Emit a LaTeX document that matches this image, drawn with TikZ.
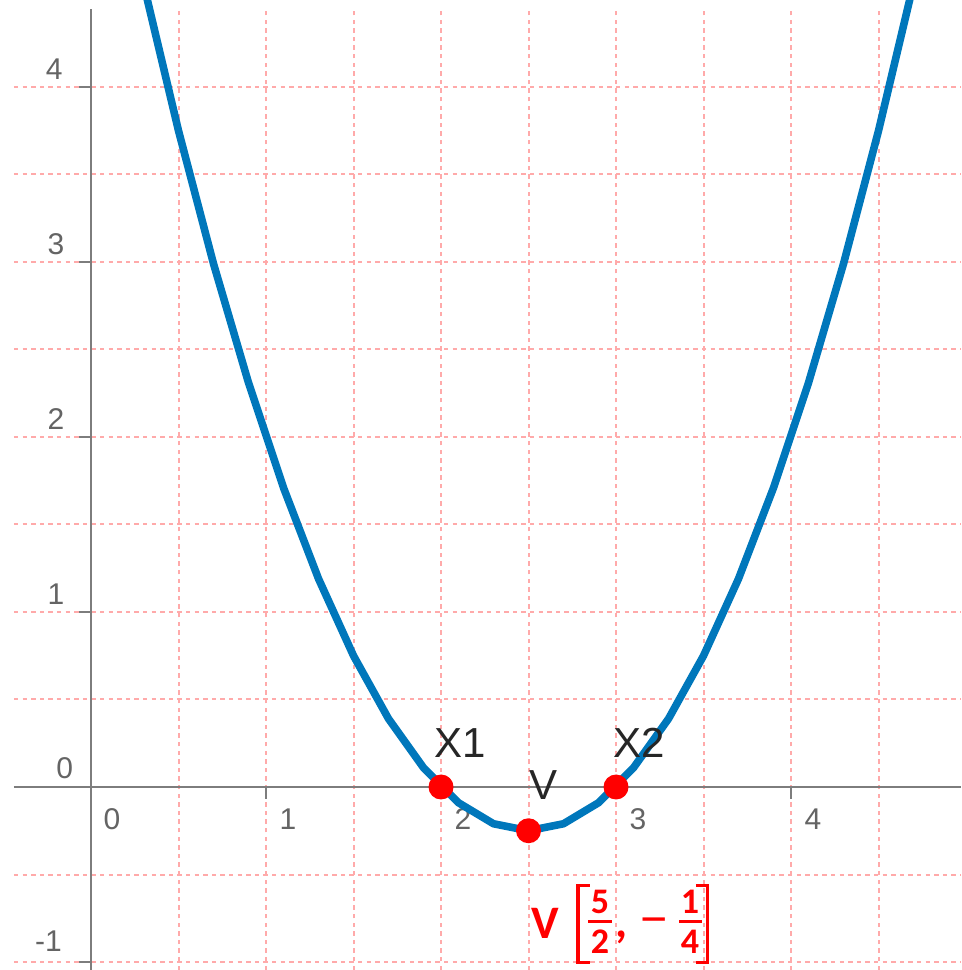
\documentclass[tikz,border=0pt]{standalone}
\usepackage{fontspec}
\setmainfont{Liberation Sans}
\newfontfamily\calb{Carlito}
\newfontfamily\timesf{Liberation Serif}
\definecolor{curveblue}{RGB}{0,119,187}
\definecolor{gridpink}{RGB}{255,170,170}
\definecolor{axisgray}{RGB}{125,125,125}
\definecolor{labgray}{RGB}{100,100,100}
\definecolor{ptred}{RGB}{255,0,0}
\begin{document}
\begin{tikzpicture}[x=87.5pt,y=87.5pt,
  gridline/.style={gridpink, line width=1pt, dash pattern=on 2.2pt off 2.1pt},
  axisline/.style={axisgray, line width=1pt},
  ticklab/.style={labgray, font=\fontsize{15}{18}\selectfont, inner sep=0pt},
  ptlab/.style={black!85, font=\fontsize{21}{25}\selectfont, inner sep=0pt},
  rootpt/.style={circle, fill=ptred, minimum size=12.5pt, inner sep=0pt},
  curve/.style={curveblue, line width=3.8pt, line join=round},
  redtxt/.style={text=ptred, inner sep=0pt, anchor=base, font=\calb\bfseries\fontsize{23.3}{28}\selectfont},
  fracdig/.style={text=ptred, inner sep=0pt, anchor=base, font=\calb\bfseries\fontsize{18}{20}\selectfont},
  redline/.style={ptred, line width=1.5pt}]
\useasboundingbox (-0.52,-1.0457) rectangle (4.9714,4.4971);
% grid
\foreach \x in {0.5,1,...,4.5} \draw[gridline] (\x,-1.0457) -- (\x,4.446);
\foreach \y in {-1,-0.5,...,4} \draw[gridline] (-0.44,\y) -- (4.9714,\y);
% axes
\draw[axisline] (-0.44,0) -- (4.9714,0);
\draw[axisline] (0,-1.0457) -- (0,4.446);
\foreach \y in {-1,1,2,3,4} \draw[axisline] (-0.069,\y) -- (0,\y);
\foreach \x in {1,2,3,4} \draw[axisline] (\x,0) -- (\x,-0.069);
% tick labels
\node[ticklab, anchor=east] (y4) at (-0.16,4.1) {4};
\node[ticklab, anchor=east] (y3) at (-0.15,3.1) {3};
\node[ticklab, anchor=east] (y2) at (-0.15,2.1) {2};
\node[ticklab, anchor=east] (y1) at (-0.15,1.1) {1};
\node[ticklab, anchor=east] (y0) at (-0.10,0.106) {0};
\node[ticklab, anchor=east] (ym1) at (-0.165,-0.88) {-1};
\node[ticklab] (x0) at (0.12,-0.183) {0};
\node[ticklab] (x1) at (1.126,-0.183) {1};
\node[ticklab] (x2) at (2.126,-0.183) {2};
\node[ticklab] (x3) at (3.126,-0.183) {3};
\node[ticklab] (x4) at (4.126,-0.183) {4};
% curve
\begin{scope}
\clip (-0.52,-1.0457) rectangle (4.9714,4.4971);
\draw[curve] plot[domain=0.3:4.7, samples=23] (\x,{(\x-2)*(\x-3)});
\end{scope}
% points
\node[rootpt] (X1) at (2,0) {};
\node[rootpt] (V) at (2.5,-0.25) {};
\node[rootpt] (X2) at (3,0) {};
\node[ptlab] (X1lab) at (2.109,0.251) {X1};
\node[ptlab] (Vlab) at (2.583,0.011) {V};
\node[ptlab] (X2lab) at (3.131,0.251) {X2};
% vertex label  V [5/2, -1/4]
\node[redtxt] (vv) at (2.594,-0.863) {V};
\draw[redline, line width=1.8pt] (2.851,-0.563) -- (2.783,-0.563) -- (2.783,-1.003) -- (2.851,-1.003);
\node[fracdig] (n5) at (2.909,-0.7257) {5};
\draw[redline] (2.84,-0.771) -- (2.977,-0.771);
\node[fracdig] (d2) at (2.909,-0.949) {2};
\node[redtxt] (comma) at (3.034,-0.862) {,};
\node[redtxt, font=\timesf\bfseries\fontsize{24}{28}\selectfont] (minus) at (3.217,-0.851) {−};
\node[fracdig] (n1) at (3.423,-0.7257) {1};
\draw[redline] (3.36,-0.771) -- (3.491,-0.771);
\node[fracdig] (d4) at (3.423,-0.949) {4};
\draw[redline, line width=1.8pt] (3.423,-0.563) ++(0.034,0) -- ++(0.065,0) -- ++(0,-0.44) -- ++(-0.065,0);
\end{tikzpicture}
\end{document}
